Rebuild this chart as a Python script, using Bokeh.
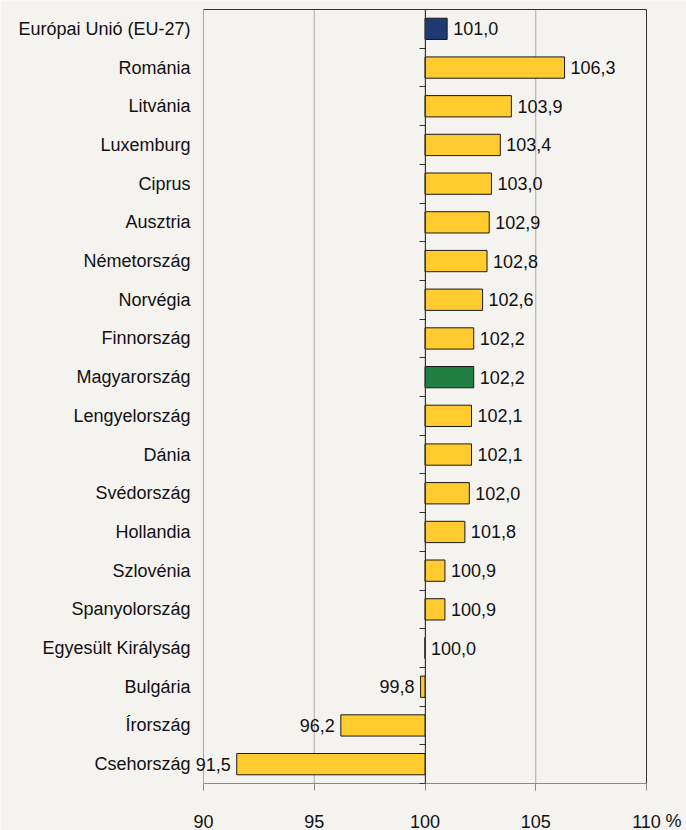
from bokeh.plotting import figure
from bokeh.models import Range1d, FixedTicker, ColumnDataSource, LinearAxis
from bokeh.core.properties import value
from bokeh.embed import file_html
from bokeh.resources import INLINE

countries = ["Európai Unió (EU-27)", "Románia", "Litvánia", "Luxemburg", "Ciprus",
             "Ausztria", "Németország", "Norvégia", "Finnország", "Magyarország",
             "Lengyelország", "Dánia", "Svédország", "Hollandia", "Szlovénia",
             "Spanyolország", "Egyesült Királyság", "Bulgária", "Írország", "Csehország"]
values = [101.0, 106.3, 103.9, 103.4, 103.0, 102.9, 102.8, 102.6, 102.2, 102.2,
          102.1, 102.1, 102.0, 101.8, 100.9, 100.9, 100.0, 99.8, 96.2, 91.5]
x_ticks = [90, 95, 100, 105, 110]
x_unit = "%"
baseline = 100

YELLOW = "#FFCB2F"
NAVY = "#1F3A72"
GREEN = "#1F7E41"
highlight = {"Európai Unió (EU-27)": NAVY, "Magyarország": GREEN}
BG = "#F5F3F0"
FONT = "Liberation Sans"
FS = "18px"
TXT = "#111111"
DARK = "#333333"
GRAY = "#a8a8a8"

# page layout (pixels): the plot box inside the full-size canvas
W, H = 686, 830
BOX_L, BOX_R, BOX_T, BOX_B = 203, 646, 9, 783

n = len(countries)
idx = list(range(n))
colors = [highlight.get(c, YELLOW) for c in countries]
labels = [f"{v:.1f}".replace(".", ",") for v in values]
aligns = ["left" if v >= baseline else "right" for v in values]
offsets = [6 if v >= baseline else -6 for v in values]

x0, x1 = x_ticks[0], x_ticks[-1]
y_top, y_bot = -0.5, n - 0.5
px_x = (BOX_R - BOX_L) / (x1 - x0)
px_y = (BOX_B - BOX_T) / (y_bot - y_top)
x_range = Range1d(x0 - BOX_L / px_x, x1 + (W - BOX_R) / px_x)
y_range = Range1d(y_bot + (H - BOX_B) / px_y, y_top - BOX_T / px_y)

src = ColumnDataSource(dict(y=idx, v=values, c=colors, lab=labels, al=aligns, off=offsets))

p = figure(width=W, height=H, output_backend="svg", toolbar_location=None,
           x_range=x_range, y_range=y_range, x_axis_location=None, y_axis_location=None,
           min_border=0)
p.background_fill_color = BG
p.border_fill_color = BG
p.outline_line_color = None
p.grid.grid_line_color = None

# vertical grid lines and plot box
p.segment(x0=x_ticks, x1=x_ticks, y0=[y_top] * len(x_ticks), y1=[y_bot] * len(x_ticks),
          line_color=GRAY, line_width=1)
p.segment(x0=[x0, x1], x1=[x1, x1], y0=[y_top, y_top], y1=[y_top, y_bot],
          line_color=DARK, line_width=1)

p.hbar(y="y", left=baseline, right="v", height=0.55, fill_color="c",
       line_color="#1a1a1a", line_width=1, source=src)
p.text(x="v", y="y", text="lab", text_align="al", x_offset="off", text_baseline="middle",
       text_font=value(FONT), text_font_size=value(FS), text_color=TXT, source=src)

# x axis along the bottom of the box
xa = LinearAxis(fixed_location=y_bot, bounds=(x0, x1), ticker=FixedTicker(ticks=x_ticks),
                axis_line_color="#8a8a8a", major_tick_line_color="#8a8a8a",
                major_tick_out=7, major_tick_in=0, minor_tick_line_color=None,
                major_label_standoff=24, major_label_text_font=FONT,
                major_label_text_font_size=FS, major_label_text_color=TXT)
p.add_layout(xa, "below")
p.text(x=[x1], y=[y_bot], text=[x_unit], x_offset=19, y_offset=27, text_align="left",
       text_baseline="top", text_font=value(FONT), text_font_size=value(FS), text_color=TXT)

# category labels to the left of the box
ya = LinearAxis(fixed_location=x0, ticker=FixedTicker(ticks=idx),
                major_label_overrides={i: c for i, c in zip(idx, countries)},
                axis_line_color=None, major_tick_line_color=None, minor_tick_line_color=None,
                major_label_standoff=7, major_label_text_font=FONT,
                major_label_text_font_size=FS, major_label_text_color=TXT)
p.add_layout(ya, "left")

# category axis at the baseline, ticks on category boundaries
inner = LinearAxis(fixed_location=baseline, bounds=(y_top, y_bot),
                   ticker=FixedTicker(ticks=[i - 0.5 for i in range(n + 1)]),
                   axis_line_color=DARK, major_tick_line_color=DARK,
                   major_tick_out=6, major_tick_in=0, minor_tick_line_color=None,
                   major_label_text_font_size="0px", major_label_text_color=None)
p.add_layout(inner, "left")

open("out.html", "w").write(file_html(p, INLINE))
